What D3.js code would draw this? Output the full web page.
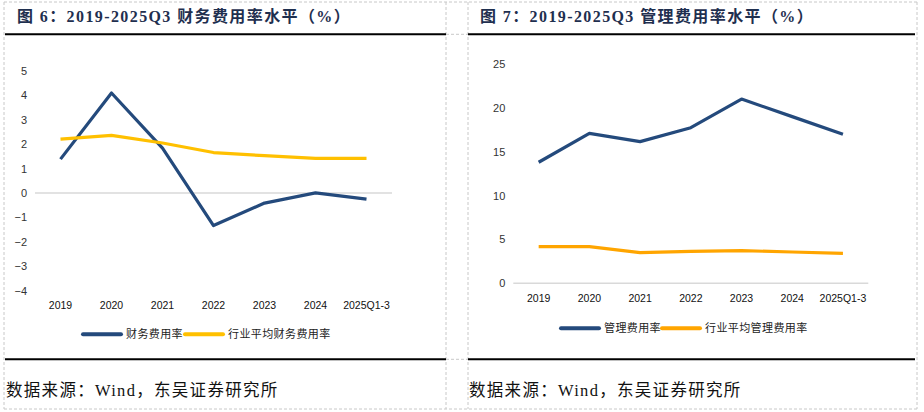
<!DOCTYPE html>
<html><head><meta charset="utf-8">
<script src="https://cdn.jsdelivr.net/npm/d3@7"></script>
<style>
html,body{margin:0;padding:0;background:#fff;}
svg{display:block;}
</style></head>
<body>
<svg id="c" width="924" height="412"></svg>
<script>
const categories = ["2019","2020","2021","2022","2023","2024","2025Q1-3"];
const finExpense = [1.39, 4.10, 1.84, -1.33, -0.41, 0.01, -0.25];
const finIndustry = [2.21, 2.36, 2.05, 1.66, 1.53, 1.42, 1.42];
const mgmtExpense = [13.8, 17.1, 16.15, 17.74, 21.0, 19.0, 17.0];
const mgmtIndustry = [4.18, 4.18, 3.49, 3.65, 3.72, 3.57, 3.42];
const finTicks = [-4,-3,-2,-1,0,1,2,3,4,5];
const mgmtTicks = [0,5,10,15,20,25];

const svg = d3.select("#c");
const blue = "#244a7c", yellow = "#ffc000", orange = "#ffa500";
const titleColor = "#1f2f4f";

// cell borders (dashed)
const dash = "3,2";
const bcol = "#c8c8c8";
[[4,2,4,409],[446,2,446,409],[468,2,468,409],[917,2,917,409],
 [4,2,917,2],[4,409,917,409],[446,34.3,468,34.3],[446,359.3,468,359.3]].forEach(l=>{
  svg.append("line").attr("x1",l[0]).attr("y1",l[1]).attr("x2",l[2]).attr("y2",l[3])
    .attr("stroke",bcol).attr("stroke-width",1).attr("stroke-dasharray",dash);
});

function panel(opt){
  // title
  svg.append("text").attr("x",opt.tx).attr("y",22)
    .attr("font-family","'Liberation Serif','Noto Sans CJK SC',serif")
    .attr("font-weight","bold").attr("font-size","16px").attr("letter-spacing","1.4px")
    .attr("fill",titleColor).text(opt.title);
  svg.append("line").attr("x1",opt.lx1).attr("x2",opt.lx2).attr("y1",34.3).attr("y2",34.3)
    .attr("stroke","#000").attr("stroke-width",2);
  svg.append("line").attr("x1",opt.lx1).attr("x2",opt.lx2).attr("y1",359.3).attr("y2",359.3)
    .attr("stroke","#000").attr("stroke-width",2);
  svg.append("text").attr("x",opt.lx1+1).attr("y",396)
    .attr("font-family","'Liberation Serif','Noto Sans CJK SC',serif")
    .attr("font-size","16.5px").attr("letter-spacing","1.3px").attr("fill","#111")
    .text("数据来源：Wind，东吴证券研究所");

  const x = d3.scaleBand().domain(categories).range(opt.xr);
  const y = d3.scaleLinear().domain(opt.yd).range(opt.yr);
  const cx = d => x(d) + x.bandwidth()/2;

  // y axis labels
  const ya = d3.axisLeft(y).tickValues(opt.ticks).tickSize(0).tickPadding(8);
  const gy = svg.append("g").attr("transform",`translate(${opt.xr[0]},0)`).call(ya);
  gy.select(".domain").remove();
  gy.selectAll("text").attr("font-family","'Liberation Sans',Arial,sans-serif")
    .attr("font-size","11px").attr("fill","#333");

  // zero line
  svg.append("line").attr("x1",opt.xr[0]).attr("x2",opt.xr[1]).attr("y1",y(0)).attr("y2",y(0))
    .attr("stroke","#d9d9d9").attr("stroke-width",1.5);

  // x labels
  const xa = d3.axisBottom(x).tickSize(0).tickPadding(0);
  const gx = svg.append("g").attr("transform",`translate(0,${opt.xly})`).call(xa);
  gx.select(".domain").remove();
  gx.selectAll("text").attr("font-family","'Liberation Sans',Arial,sans-serif")
    .attr("font-size","10.5px").attr("fill","#111").attr("dy","0.32em");

  const line = d3.line().x((d,i)=>cx(categories[i])).y(d=>y(d));
  opt.series.forEach(s=>{
    svg.append("path").datum(s.values).attr("d",line).attr("fill","none")
      .attr("stroke",s.color).attr("stroke-width",3.2).attr("stroke-linejoin","round");
  });

  // legend
  opt.series.forEach((s,i)=>{
    const lx = opt.leg[i];
    svg.append("line").attr("x1",lx).attr("x2",lx+38).attr("y1",opt.legy).attr("y2",opt.legy)
      .attr("stroke",s.color).attr("stroke-width",4).attr("stroke-linecap","round");
    svg.append("text").attr("x",lx+43).attr("y",opt.legy).attr("dy","0.36em")
      .attr("font-family","'Noto Sans CJK SC',sans-serif").attr("font-size","11px")
      .attr("letter-spacing","0.4px").attr("fill","#222").text(s.name);
  });
}

panel({
  title:"图 6：2019-2025Q3 财务费用率水平（%）", tx:17, lx1:5, lx2:446,
  xr:[35,392], yd:[-4,5], yr:[290.7,71], ticks:finTicks, xly:305.7,
  series:[{name:"财务费用率",values:finExpense,color:blue},
          {name:"行业平均财务费用率",values:finIndustry,color:yellow}],
  leg:[83,185], legy:334.3
});
panel({
  title:"图 7：2019-2025Q3 管理费用率水平（%）", tx:480, lx1:468, lx2:915,
  xr:[513.3,868.3], yd:[0,25], yr:[283.3,64], ticks:mgmtTicks, xly:299,
  series:[{name:"管理费用率",values:mgmtExpense,color:blue},
          {name:"行业平均管理费用率",values:mgmtIndustry,color:orange}],
  leg:[561,662], legy:328.3
});
</script>
</body></html>
